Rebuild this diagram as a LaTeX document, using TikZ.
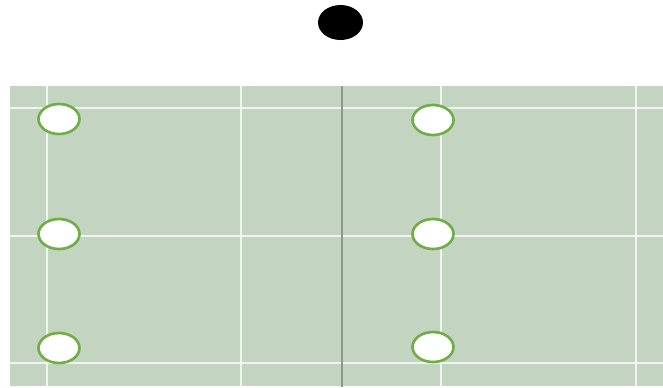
\documentclass[tikz,border=0pt]{standalone}
\usepackage{tikz}
\usetikzlibrary{shapes.geometric}
\definecolor{fieldgreen}{HTML}{C3D4C1}
\definecolor{ringgreen}{HTML}{70AD47}
\definecolor{midline}{HTML}{8C9A8A}

\begin{document}
\begin{tikzpicture}[x=0.02cm,y=-0.02cm,
    spot/.style={ellipse, draw=ringgreen, line width=1.5pt, fill=white,
      minimum width=0.82cm, minimum height=0.6cm, inner sep=0pt},
    ball/.style={ellipse, fill=black, minimum width=0.9cm, minimum height=0.7cm, inner sep=0pt},
    gridline/.style={white, opacity=0.75, line width=1.6pt}]
      \useasboundingbox (0,0) rectangle (663,387);

      % Field
      \fill[fieldgreen] (10,86) rectangle (663,386);

      % Field lines
      \foreach \x in {47,241,441,636}
        \draw[gridline] (\x,86) -- (\x,386);
      \foreach \y in {108,236,363}
        \draw[gridline] (10,\y) -- (663,\y);

      % Centre line
      \draw[midline, line width=1.1pt] (342,86) -- (342,387);

      % Ball
      \node[ball] (ball) at (340.5,22.5) {};

      % Players
      \node[spot] (l1) at (59,119) {};
      \node[spot] (l2) at (59,234) {};
      \node[spot] (l3) at (59,348) {};
      \node[spot] (r1) at (433,120) {};
      \node[spot] (r2) at (433,234) {};
      \node[spot] (r3) at (433,347) {};
  \end{tikzpicture}
\end{document}
